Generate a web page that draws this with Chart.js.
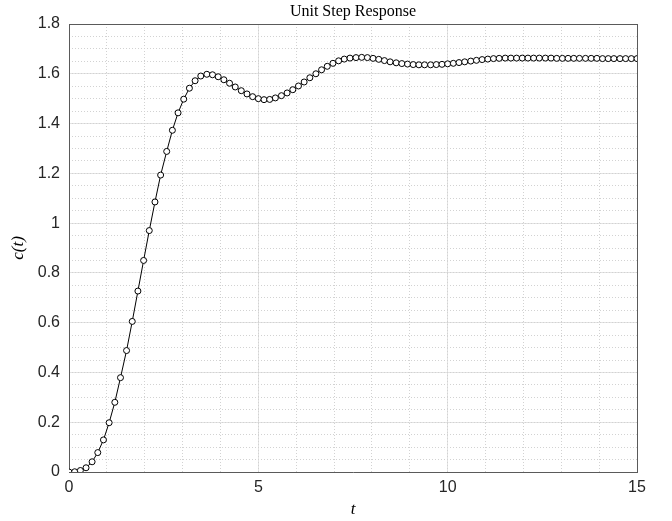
<!DOCTYPE html>
<html>
<head>
<meta charset="utf-8">
<script src="https://cdn.jsdelivr.net/npm/chart.js@4/dist/chart.umd.min.js"></script>
<style>
    html, body { margin: 0; padding: 0; background: #fff; }
    #wrap { width: 672px; height: 521px; }
</style>
</head>
<body>
<div id="wrap"><canvas id="stepChart"></canvas></div>
<script>
// sample times (s) and unit step response values
const tValues = [
    0, 0.15, 0.30, 0.45, 0.61, 0.76, 0.91, 1.06, 1.21, 1.36,
    1.52, 1.67, 1.82, 1.97, 2.12, 2.27, 2.42, 2.58, 2.73, 2.88,
    3.03, 3.18, 3.33, 3.48, 3.64, 3.79, 3.94, 4.09, 4.24, 4.39,
    4.55, 4.70, 4.85, 5.00, 5.15, 5.30, 5.45, 5.61, 5.76, 5.91,
    6.06, 6.21, 6.36, 6.52, 6.67, 6.82, 6.97, 7.12, 7.27, 7.42,
    7.58, 7.73, 7.88, 8.03, 8.18, 8.33, 8.48, 8.64, 8.79, 8.94,
    9.09, 9.24, 9.39, 9.55, 9.70, 9.85, 10.00, 10.15, 10.30, 10.45,
    10.61, 10.76, 10.91, 11.06, 11.21, 11.36, 11.52, 11.67, 11.82, 11.97,
    12.12, 12.27, 12.42, 12.58, 12.73, 12.88, 13.03, 13.18, 13.33, 13.48,
    13.64, 13.79, 13.94, 14.09, 14.24, 14.39, 14.55, 14.70, 14.85, 15.00
];
const cValues = [
    0, 0.001, 0.006, 0.017, 0.041, 0.078, 0.129, 0.198, 0.280, 0.379,
    0.488, 0.605, 0.727, 0.850, 0.970, 1.085, 1.193, 1.288, 1.373, 1.443,
    1.498, 1.542, 1.572, 1.591, 1.598, 1.596, 1.588, 1.576, 1.562, 1.547,
    1.532, 1.519, 1.508, 1.500, 1.496, 1.497, 1.503, 1.512, 1.523, 1.536,
    1.551, 1.567, 1.584, 1.600, 1.616, 1.630, 1.642, 1.652, 1.659, 1.663,
    1.665, 1.666, 1.665, 1.662, 1.658, 1.653, 1.648, 1.644, 1.641, 1.639,
    1.637, 1.636, 1.636, 1.636, 1.637, 1.638, 1.640, 1.642, 1.645, 1.648,
    1.651, 1.654, 1.657, 1.659, 1.661, 1.662, 1.663, 1.663, 1.663, 1.663,
    1.663, 1.663, 1.663, 1.663, 1.663, 1.662, 1.662, 1.662, 1.662, 1.662,
    1.662, 1.662, 1.662, 1.661, 1.661, 1.661, 1.661, 1.661, 1.661, 1.661
];
const xTickValues = [0, 5, 10, 15];
const yTickValues = [0, 0.2, 0.4, 0.6, 0.8, 1, 1.2, 1.4, 1.6, 1.8];

const chartTitle = 'Unit Step Response';
const xLabel = 't';
const yLabel = 'c(t)';

const axisColor = '#262626';
const boxColor = '#5a5a5a';
const majorGridColor = '#e3e3e3';
const minorGridColor = '#d2d2d2';

// title is centred over the plot area, not the canvas
const plotTitlePlugin = {
    id: 'plotTitle',
    afterDraw(chart) {
        const ctx = chart.ctx;
        const area = chart.chartArea;
        ctx.save();
        ctx.font = '16px "Liberation Serif", "Times New Roman", serif';
        ctx.fillStyle = '#000';
        ctx.textAlign = 'center';
        ctx.textBaseline = 'alphabetic';
        ctx.fillText(chartTitle, (area.left + area.right) / 2, area.top - 8);
        ctx.restore();
    }
};

let data = tValues.map((t, i) => ({ x: t, y: cValues[i] }));

const ctx = document.getElementById('stepChart').getContext('2d');
window.chart = new Chart(ctx, {
    type: 'line',
    data: {
        datasets: [{
            label: 'c(t)',
            data: data,
            borderColor: '#000',
            borderWidth: 1,
            backgroundColor: '#fff',
            pointBackgroundColor: '#fff',
            pointBorderColor: '#000',
            pointBorderWidth: 1,
            pointRadius: 3,
            tension: 0,
            fill: false
        }]
    },
    options: {
        responsive: true,
        maintainAspectRatio: false,
        animation: false,
        layout: { padding: { top: 24, right: 35, left: 0, bottom: 0 } },
        plugins: {
            legend: { display: false },
            tooltip: { enabled: false },
            title: { display: false }
        },
        scales: {
            x: {
                type: 'linear',
                position: 'bottom',
                min: 0,
                max: 15,
                afterBuildTicks: s => { s.ticks = xTickValues.map(v => ({ value: v })); },
                afterFit: s => { s.height = 49; },
                ticks: {
                    color: axisColor,
                    font: { family: '"Liberation Sans", Arial, sans-serif', size: 16 },
                    padding: 6,
                    maxRotation: 0
                },
                grid: { color: majorGridColor, lineWidth: 1, drawTicks: false },
                border: { display: true, color: boxColor, width: 1 },
                title: {
                    display: true,
                    text: xLabel,
                    color: '#000',
                    font: { family: '"Liberation Serif", "Times New Roman", serif', size: 17, style: 'italic' },
                    padding: { top: 0, bottom: 1 }
                }
            },
            y: {
                type: 'linear',
                position: 'left',
                min: 0,
                max: 1.8,
                afterBuildTicks: s => { s.ticks = yTickValues.map(v => ({ value: v })); },
                afterFit: s => { s.width = 69; },
                ticks: {
                    color: axisColor,
                    font: { family: '"Liberation Sans", Arial, sans-serif', size: 16 },
                    padding: 9,
                    callback: v => String(Math.round(v * 10) / 10)
                },
                grid: { color: majorGridColor, lineWidth: 1, drawTicks: false },
                border: { display: true, color: boxColor, width: 1 },
                title: {
                    display: true,
                    text: yLabel,
                    color: '#000',
                    font: { family: '"Liberation Serif", "Times New Roman", serif', size: 17, style: 'italic' },
                    padding: { top: 8, bottom: 0 }
                }
            },
            // dotted minor grid
            xMinor: {
                type: 'linear',
                position: 'bottom',
                min: 0,
                max: 15,
                afterFit: s => { s.height = 0; },
                ticks: { display: false, stepSize: 1 },
                grid: { color: minorGridColor, lineWidth: 1, drawTicks: false },
                border: { display: false, dash: [1, 2] }
            },
            yMinor: {
                type: 'linear',
                position: 'left',
                min: 0,
                max: 1.8,
                afterFit: s => { s.width = 0; },
                ticks: { display: false, stepSize: 0.05 },
                grid: { color: minorGridColor, lineWidth: 1, drawTicks: false },
                border: { display: false, dash: [1, 2] }
            },
            // top and right edges of the axes box
            xTop: {
                type: 'linear',
                position: 'top',
                min: 0,
                max: 15,
                afterFit: s => { s.height = 0; },
                ticks: { display: false },
                grid: { display: false, drawTicks: false },
                border: { display: true, color: boxColor, width: 1 }
            },
            yRight: {
                type: 'linear',
                position: 'right',
                min: 0,
                max: 1.8,
                afterFit: s => { s.width = 0; },
                ticks: { display: false },
                grid: { display: false, drawTicks: false },
                border: { display: true, color: boxColor, width: 1 }
            }
        }
    },
    plugins: [plotTitlePlugin]
});
</script>
</body>
</html>
